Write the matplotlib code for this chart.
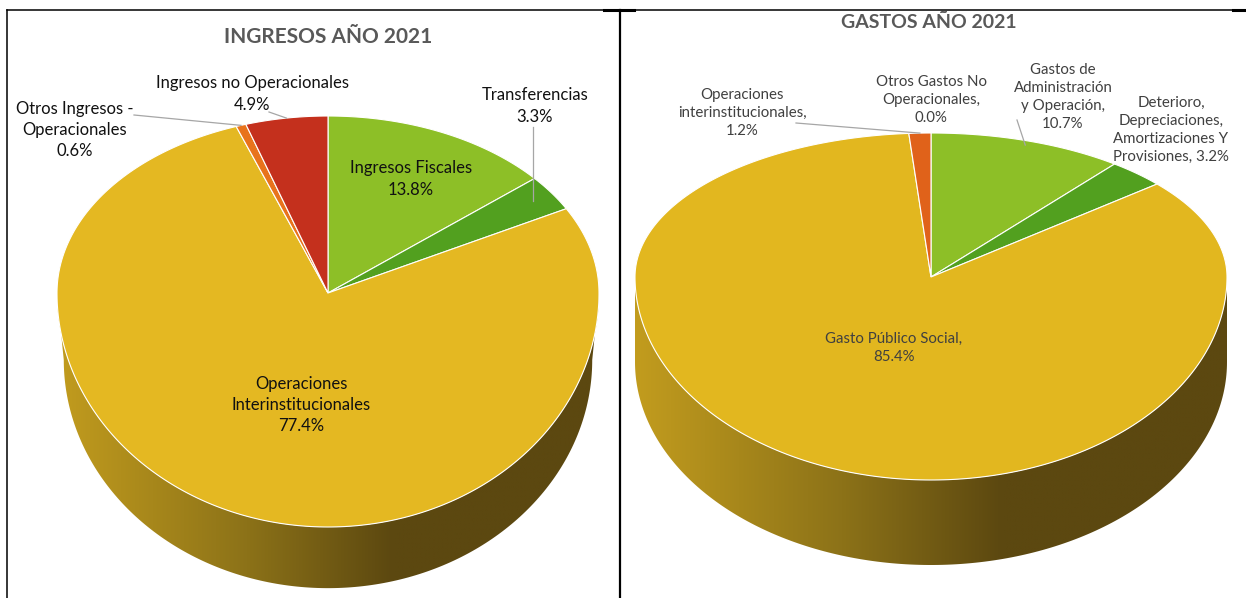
import numpy as np
import matplotlib
import matplotlib.pyplot as plt
from matplotlib.patches import Polygon
from matplotlib.colors import LinearSegmentedColormap

matplotlib.use('Agg')
plt.rcParams['font.family'] = ['Lato', 'DejaVu Sans']

# datos
ing_names = ['Ingresos Fiscales', 'Transferencias', 'Operaciones\nInterinstitucionales',
             'Otros Ingresos -\nOperacionales', 'Ingresos no Operacionales']
ing_values = [13.8, 3.3, 77.4, 0.6, 4.9]
ing_colors = ['#8DBF27', '#52A01F', '#E4B822', '#E8731C', '#C4301D']

gas_names = ['Gastos de\nAdministración\ny Operación', 'Deterioro,\nDepreciaciones,\nAmortizaciones Y\nProvisiones',
             'Gasto Público Social', 'Otros Gastos No\nOperacionales', 'Operaciones\ninterinstitucionales']
gas_values = [10.7, 3.2, 85.4, 0.0, 1.2]
gas_colors = ['#8DBF27', '#52A01F', '#E2B71F', '#E8731C', '#E0621A']
gas_sep = [',\n', ', ', ',\n', ',\n', ',\n']

side_cmap = LinearSegmentedColormap.from_list(
    'side', [(0, '#C29C1E'), (0.35, '#8C7218'), (0.62, '#5C4810'), (1, '#5C4810')])


def proj(t, p, r=1.0):
    # t: angulo en sentido horario desde arriba
    s, c = np.sin(t), np.cos(t)
    y = np.where(c > 0, p['cy'] - p['ry_up'] * c * r, p['cy'] - p['ry_dn'] * c * r)
    return p['cx'] + p['rx'] * s * r, y


def pie3d(ax, values, colors, p):
    vals = np.array(values, dtype=float)
    edges = np.concatenate([[0], np.cumsum(vals)]) / vals.sum() * 2 * np.pi

    # lateral
    t = np.linspace(np.pi / 2, 3 * np.pi / 2, 200)
    xt, yt = proj(t, p)
    k = p['k']
    xb = p['cx'] + p['rx'] * k * np.sin(t)
    yb = p['cy'] + p['depth'] - p['ry_dn'] * k * np.cos(t)
    side = Polygon(np.column_stack([np.r_[xt, xb[::-1]], np.r_[yt, yb[::-1]]]),
                   closed=True, facecolor='none', edgecolor='none')
    ax.add_patch(side)
    grad = np.linspace(0, 1, 256)[None, :]
    im = ax.imshow(grad, cmap=side_cmap, aspect='auto', interpolation='bilinear',
                   extent=(p['cx'] - p['rx'], p['cx'] + p['rx'],
                           p['cy'] + p['depth'] + p['ry_dn'], p['cy']), zorder=1)
    im.set_clip_path(side)

    # cara superior
    mids = []
    for i, v in enumerate(vals):
        t0, t1 = edges[i], edges[i + 1]
        mids.append((t0 + t1) / 2)
        if v <= 0:
            continue
        tt = np.linspace(t0, t1, max(int(v * 4), 8))
        x, y = proj(tt, p)
        poly = np.column_stack([np.r_[p['cx'], x], np.r_[p['cy'], y]])
        ax.add_patch(Polygon(poly, closed=True, facecolor=colors[i], edgecolor='white',
                             linewidth=0.8, zorder=2))
    return mids


fig = plt.figure(figsize=(12.46, 5.98), dpi=100)
ax = fig.add_axes([0, 0, 1, 1])

left = dict(cx=328, cy=293, rx=271, ry_up=177, ry_dn=234, depth=67, k=0.975)
right = dict(cx=931, cy=277, rx=296, ry_up=144, ry_dn=203, depth=85, k=1.0)

mids_i = pie3d(ax, ing_values, ing_colors, left)
mids_g = pie3d(ax, gas_values, gas_colors, right)

# titulos
ax.text(328, 37, 'INGRESOS AÑO 2021', ha='center', va='center', fontsize=15,
        fontweight='bold', color='#595959')
ax.text(929, 23, 'GASTOS AÑO 2021', ha='center', va='center', fontsize=14,
        fontweight='bold', color='#595959')

# etiquetas ingresos
ing_pos = [(411, 179), (535, 106), (301, 405), (75, 130), (252, 94)]
for i, (name, v) in enumerate(zip(ing_names, ing_values)):
    ax.text(*ing_pos[i], f'{name}\n{v:.1f}%', ha='center', va='center', fontsize=12,
            color='#111111', linespacing=1.4, zorder=5)

# etiquetas gastos
gas_pos = [(1063, 97), (1171, 130), (894, 348), (931, 100), (742, 113)]
for i, (name, v) in enumerate(zip(gas_names, gas_values)):
    ax.text(*gas_pos[i], f'{name}{gas_sep[i]}{v:.1f}%', ha='center', va='center',
            fontsize=10.8, color='#404040', linespacing=1.35, zorder=5)

# lineas guia
lc = '#A6A6A6'
x, y = proj(mids_i[3], left)
ax.plot([134, x], [115, y], color=lc, lw=0.9, zorder=4)
x, y = proj(mids_i[4], left)
ax.plot([269, x], [112, y], color=lc, lw=0.9, zorder=4)
t = mids_i[1]
r = (533 - left['cx']) / (left['rx'] * np.sin(t))
x, y = proj(t, left, r)
ax.plot([533, 533], [127, y], color=lc, lw=0.9, zorder=4)
x, y = proj(mids_g[4], right)
ax.plot([796, x], [123, y], color=lc, lw=0.9, zorder=4)
x, y = proj(mids_g[0], right, 0.97)
ax.plot([1017, x], [120, y], color=lc, lw=0.9, zorder=4)

# bordes
ax.plot([7, 1246], [10, 10], color='black', lw=1.1, zorder=6)
ax.plot([604, 634], [10, 10], color='black', lw=2.2, zorder=6)
ax.plot([1233, 1246], [10, 10], color='black', lw=2.2, zorder=6)
ax.plot([7, 7], [10, 598], color='black', lw=1.1, zorder=6)
ax.plot([620, 620], [10, 598], color='black', lw=1.6, zorder=6)

ax.set_xlim(0, 1246)
ax.set_ylim(598, 0)
ax.axis('off')

fig.savefig('out.png', dpi=100)
